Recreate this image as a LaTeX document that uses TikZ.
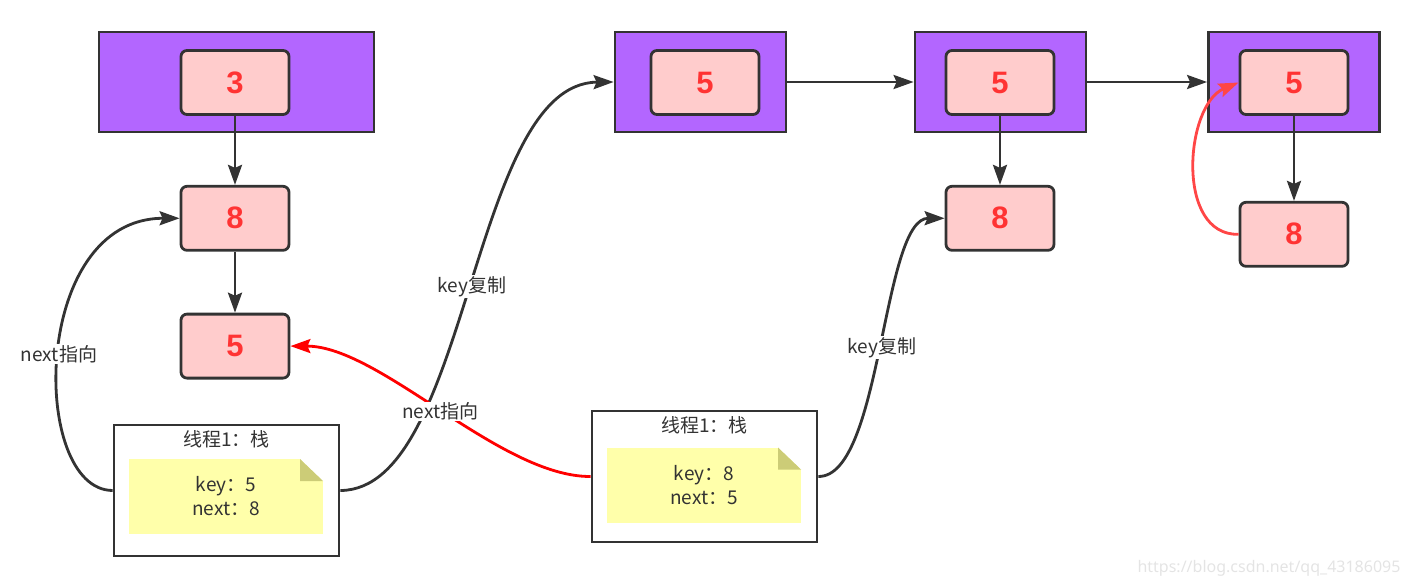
\documentclass[tikz,border=0pt]{standalone}
\usepackage{fontspec}
\setmainfont{Noto Sans CJK SC}
\newfontfamily\numfont{Liberation Sans}
\newfontfamily\markfont{Noto Sans}
\usetikzlibrary{arrows.meta,positioning}
\definecolor{slotpurple}{RGB}{179,102,255}
\definecolor{keypink}{RGB}{255,204,204}
\definecolor{keyred}{RGB}{255,51,51}
\definecolor{linegray}{RGB}{51,51,51}
\definecolor{noteyellow}{RGB}{255,255,170}
\definecolor{notefold}{RGB}{204,204,119}
\definecolor{markgray}{RGB}{228,228,228}
\definecolor{loopred}{RGB}{255,70,70}

\begin{document}
\begin{tikzpicture}[x=1pt, y=-1pt, >={Stealth[length=20pt,width=14pt,inset=3pt]}]
    \useasboundingbox (0,0) rectangle (1401,586);
    \tikzstyle{slot} = [rectangle, minimum width=171pt, minimum height=100pt, fill=slotpurple, draw=linegray, line width=2.8pt]
    \tikzstyle{keybox} = [rectangle, rounded corners=6pt, minimum width=108pt, minimum height=64pt, fill=keypink, draw=linegray, line width=2.8pt, text=keyred, font=\fontsize{31}{36}\selectfont\numfont\bfseries]
    \tikzstyle{stackbox} = [rectangle, minimum width=225pt, minimum height=131pt, fill=white, draw=linegray, line width=2.8pt]
    \tikzstyle{notebox} = [rectangle, minimum width=194pt, minimum height=75pt, fill=noteyellow, text=linegray, align=center, font=\fontsize{19}{24}\selectfont,
        path picture={
            \fill[white] (path picture bounding box.north east) -- ++(-23pt,0pt) -- ++(23pt,-22pt) -- cycle;
            \fill[notefold] ([xshift=-23pt]path picture bounding box.north east) -- ++(0pt,-22pt) -- ++(23pt,0pt) -- cycle;}]
    \tikzstyle{caption} = [text=linegray, font=\fontsize{19}{23}\selectfont]
    \tikzstyle{lbl} = [fill=white, inner sep=1pt, text=linegray, font=\fontsize{19}{23}\selectfont]
    \tikzstyle{conn} = [draw=linegray, line width=2.8pt]
    \tikzstyle{redconn} = [draw=red, line width=2.8pt]

    % buckets of the table
    \node (slot1) [slot, minimum width=275pt] at (236.5,82) {};
    \node (head1) [keybox] at (235,82.5) {3};
    \node (slot2) [slot] at (700.5,82) {};
    \node (head2) [keybox] at (705,82.5) {5};
    \node (slot3) [slot] at (1000.5,82) {};
    \node (head3) [keybox] at (1000,82.5) {5};
    \node (slot4) [slot] at (1294,82) {};
    \node (head4) [keybox] at (1294,82.5) {5};

    % chained entries
    \node (entry8a) [keybox, below=69pt of head1] {8};
    \node (entry5a) [keybox, below=61pt of entry8a] {5};
    \node (entry8b) [keybox, below=69pt of head3] {8};
    \node (entry8c) [keybox, below=85pt of head4] {8};

    % thread stacks
    \node (stack1) [stackbox] at (226.5,490.5) {};
    \node (title1) [caption] at (226.5,439) {线程1：栈};
    \node (note1) [notebox] at (226,496.5) {key：5\\next：8};
    \node (stack2) [stackbox] at (704.5,476.5) {};
    \node (title2) [caption] at (704.5,425) {线程1：栈};
    \node (note2) [notebox] at (704,485) {key：8\\next：5};

    \draw [conn,->] (head1) -- (entry8a);
    \draw [conn,->] (entry8a) -- (entry5a);
    \draw [conn,->] (head3) -- (entry8b);
    \draw [conn,->] (head4) -- (entry8c);
    \draw [conn,->] (slot2) -- (slot3);
    \draw [conn,->] (slot3) -- (slot4);
    \draw [draw=loopred, line width=2.8pt, ->] (entry8c.west) .. controls (1175,236) and (1185,105) .. (head4.west);

    \draw [conn,->] (stack1.west) .. controls (30,490) and (30,218) .. (entry8a.west) node [lbl, pos=0.5] {next指向};
    \draw [conn,->] (stack2.east) .. controls (882,477) and (882,218) .. (entry8b.west) node [lbl, pos=0.5] {key复制};
    \draw [conn,->] (stack1.east) .. controls (470,490) and (470,83) .. (slot2.west) node [lbl, pos=0.5] {key复制};
    \draw [redconn,->] (stack2.west) .. controls (500,477) and (380,346) .. (entry5a.east) node [lbl, pos=0.5] {next指向};

    \node (mark) [text=markgray, font=\fontsize{16}{19}\selectfont\markfont] at (1269,568) {https://blog.csdn.net/qq\_43186095};
\end{tikzpicture}
\end{document}
